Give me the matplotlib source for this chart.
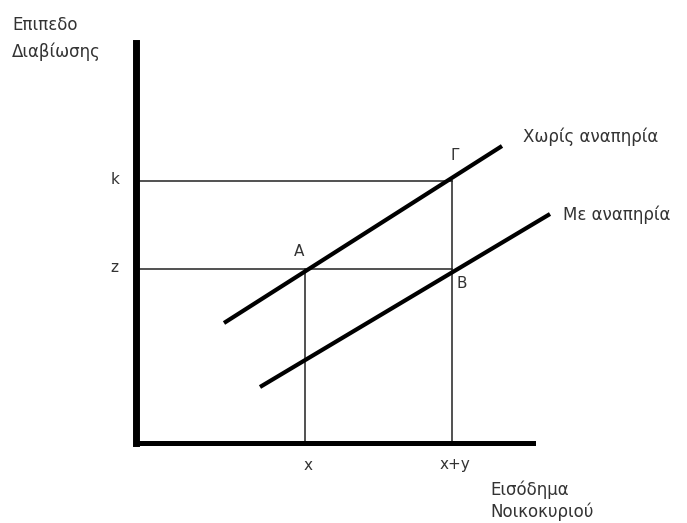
import matplotlib
matplotlib.use("Agg")
import matplotlib.pyplot as plt

# Data (units: chart units, origin at axes corner)
x_point = 16.9        # x
xy_point = 31.6       # x+y
z_level = 17.4        # z
k_level = 26.2        # k
no_disability_x = [8.8, 36.6]
no_disability_y = [12.0, 29.7]
disability_x = [12.4, 41.4]
disability_y = [5.6, 22.9]
tick_x_labels = ["x", "x+y"]
tick_y_labels = ["z", "k"]

W, H = 687, 523
fig = plt.figure(figsize=(W / 100, H / 100), dpi=100)
fig.patch.set_facecolor("white")
ax = fig.add_axes([136 / W, (H - 443) / H, (533 - 136) / W, (443 - 43) / H])
ax.set_xlim(0, 39.7)
ax.set_ylim(0, 40.0)
ax.set_xticks([])
ax.set_yticks([])
for s in ["top", "right"]:
    ax.spines[s].set_visible(False)
ax.spines["left"].set_linewidth(5.0)
ax.spines["bottom"].set_linewidth(3.6)
ax.spines["left"].set_capstyle("projecting")
ax.set_facecolor("none")

thin = 1.1
# guide lines
ax.plot([0, xy_point], [k_level, k_level], color="#222222", lw=thin)
ax.plot([0, xy_point], [z_level, z_level], color="#222222", lw=thin)
ax.plot([x_point, x_point], [0, z_level], color="#222222", lw=thin)
ax.plot([xy_point, xy_point], [0, k_level], color="#222222", lw=thin)

# curves
ax.plot(no_disability_x, no_disability_y, color="black", lw=3.0, clip_on=False,
        solid_capstyle="butt")
ax.plot(disability_x, disability_y, color="black", lw=3.0, clip_on=False,
        solid_capstyle="butt")

tc = "#333333"
fs = 12
def px(xp, yp):
    return ((xp - 136) / 10.0, (443 - yp) / 10.0)

def t(xp, yp, s, ha="center", va="center", size=fs):
    X, Y = px(xp, yp)
    ax.text(X, Y, s, ha=ha, va=va, fontsize=size, color=tc, clip_on=False,
            family="DejaVu Sans")

t(12, 25, "Επιπεδο", ha="left")
t(12, 52, "Διαβίωσης", ha="left")
t(115, 180, tick_y_labels[1], size=11)
t(114, 268, tick_y_labels[0], size=11)
t(308, 465, tick_x_labels[0], size=11)
t(455, 465, tick_x_labels[1], size=11)
t(299, 252, "A", size=11)
t(455, 155, "Γ", size=11)
t(462, 283, "B", size=11)
t(523, 137, "Χωρίς αναπηρία", ha="left")
t(563, 215, "Με αναπηρία", ha="left")
t(490, 490, "Εισόδημα", ha="left")
t(490, 512, "Νοικοκυριού", ha="left")

fig.savefig("out.png", dpi=100, facecolor="white")
